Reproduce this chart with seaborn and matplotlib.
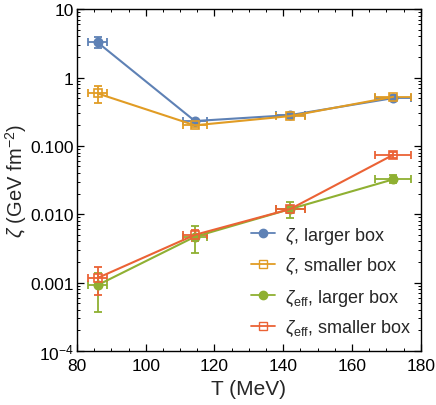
import numpy as np
import pandas as pd
import matplotlib
matplotlib.use("Agg")
import matplotlib.pyplot as plt
from matplotlib.ticker import FixedLocator, FixedFormatter, LogLocator, NullFormatter, MultipleLocator
from matplotlib.lines import Line2D
import seaborn as sns

# ---- data ----
T = [86.0, 114.3, 142.0, 172.0]
T_err = [2.7, 3.5, 4.2, 5.2]

zeta_large = [3.26, 0.231, 0.282, 0.50]
zeta_large_lo = [0.60, 0.010, 0.015, 0.03]
zeta_large_hi = [0.70, 0.010, 0.015, 0.03]

zeta_small = [0.585, 0.200, 0.273, 0.522]
zeta_small_lo = [0.167, 0.012, 0.015, 0.035]
zeta_small_hi = [0.163, 0.012, 0.015, 0.035]

zeff_large = [0.00092, 0.00469, 0.0119, 0.0324]
zeff_large_lo = [0.00055, 0.0020, 0.0031, 0.0034]
zeff_large_hi = [0.00045, 0.0021, 0.0030, 0.0056]

zeff_small = [0.00117, 0.0050, 0.0119, 0.0741]
zeff_small_lo = [0.000505, 0.0010, 0.0015, 0.008]
zeff_small_hi = [0.00051, 0.0009, 0.0015, 0.008]

labels = [r"$\zeta$, larger box", r"$\zeta$, smaller box",
          r"$\zeta_{\rm eff}$, larger box", r"$\zeta_{\rm eff}$, smaller box"]
colors = ["#5E81B5", "#E19C24", "#8FB032", "#EB6235"]
markers = ["o", "s", "o", "s"]
filled = [True, False, True, False]

y_ticks = [1e-4, 1e-3, 1e-2, 1e-1, 1, 10]
y_ticklabels = [r"$10^{-4}$", "0.001", "0.010", "0.100", "1", "10"]
x_ticks = [80, 100, 120, 140, 160, 180]

# ---- style ----
sns.set_style("ticks")
plt.rcParams["font.family"] = ["Liberation Sans", "DejaVu Sans"]
plt.rcParams["mathtext.fontset"] = "custom"
plt.rcParams["mathtext.rm"] = "Liberation Sans"
plt.rcParams["mathtext.it"] = "Liberation Sans:italic"
plt.rcParams["mathtext.bf"] = "Liberation Sans:bold"

fig = plt.figure(figsize=(4.36, 4.06), dpi=100)
ax = fig.add_axes([0.1766, 0.133, 0.7884, 0.842])

series = [
    (zeta_large, zeta_large_lo, zeta_large_hi),
    (zeta_small, zeta_small_lo, zeta_small_hi),
    (zeff_large, zeff_large_lo, zeff_large_hi),
    (zeff_small, zeff_small_lo, zeff_small_hi),
]

frames = []
for lab, (vals, lo, hi) in zip(labels, series):
    frames.append(pd.DataFrame({"T": T, "val": vals, "series": lab}))
df = pd.concat(frames, ignore_index=True)

for i, (lab, (vals, lo, hi)) in enumerate(zip(labels, series)):
    c = colors[i]
    ax.errorbar(T, vals, yerr=[lo, hi], xerr=T_err, fmt="none", ecolor=c,
                elinewidth=1.3, capsize=3, capthick=1.3, zorder=2)
    sub = df[df["series"] == lab]
    sns.lineplot(data=sub, x="T", y="val", ax=ax, color=c, lw=1.5,
                 marker=markers[i], markersize=6,
                 markerfacecolor=c if filled[i] else "none",
                 markeredgecolor=c, markeredgewidth=1.2,
                 label=lab, zorder=3, legend=False)

handles = [Line2D([0], [0], color=colors[i], lw=1.3, marker=markers[i], markersize=6,
                  markerfacecolor=colors[i] if filled[i] else "none",
                  markeredgecolor=colors[i], markeredgewidth=1.0) for i in range(4)]

ax.set_yscale("log")
ax.set_xlim(80, 180)
ax.set_ylim(1e-4, 10)
ax.yaxis.set_major_locator(FixedLocator(y_ticks))
ax.yaxis.set_major_formatter(FixedFormatter(y_ticklabels))
ax.yaxis.set_minor_locator(LogLocator(base=10, subs=np.arange(2, 10), numticks=20))
ax.yaxis.set_minor_formatter(NullFormatter())
ax.xaxis.set_major_locator(FixedLocator(x_ticks))
ax.xaxis.set_minor_locator(MultipleLocator(5))

ax.tick_params(which="both", direction="in", top=True, right=True, labelsize=12.5, colors="black")
ax.tick_params(axis="x", pad=5)
ax.tick_params(axis="y", pad=2.5)
ax.tick_params(which="major", length=5, width=0.9)
ax.tick_params(which="minor", length=2.5, width=0.7)
for s in ax.spines.values():
    s.set_linewidth(1.0)
    s.set_color("black")

ax.set_xlabel("T (MeV)", fontsize=15, labelpad=4)
ax.set_ylabel(r"$\zeta$ (GeV fm$^{-2}$)", fontsize=14.5, labelpad=1)

ax.legend(handles, labels, loc="lower right", bbox_to_anchor=(0.975, 0.037),
          frameon=False, fontsize=13, labelspacing=0.56, handlelength=1.3,
          handletextpad=0.6, borderpad=0, borderaxespad=0)

fig.savefig("out.png", dpi=100)
